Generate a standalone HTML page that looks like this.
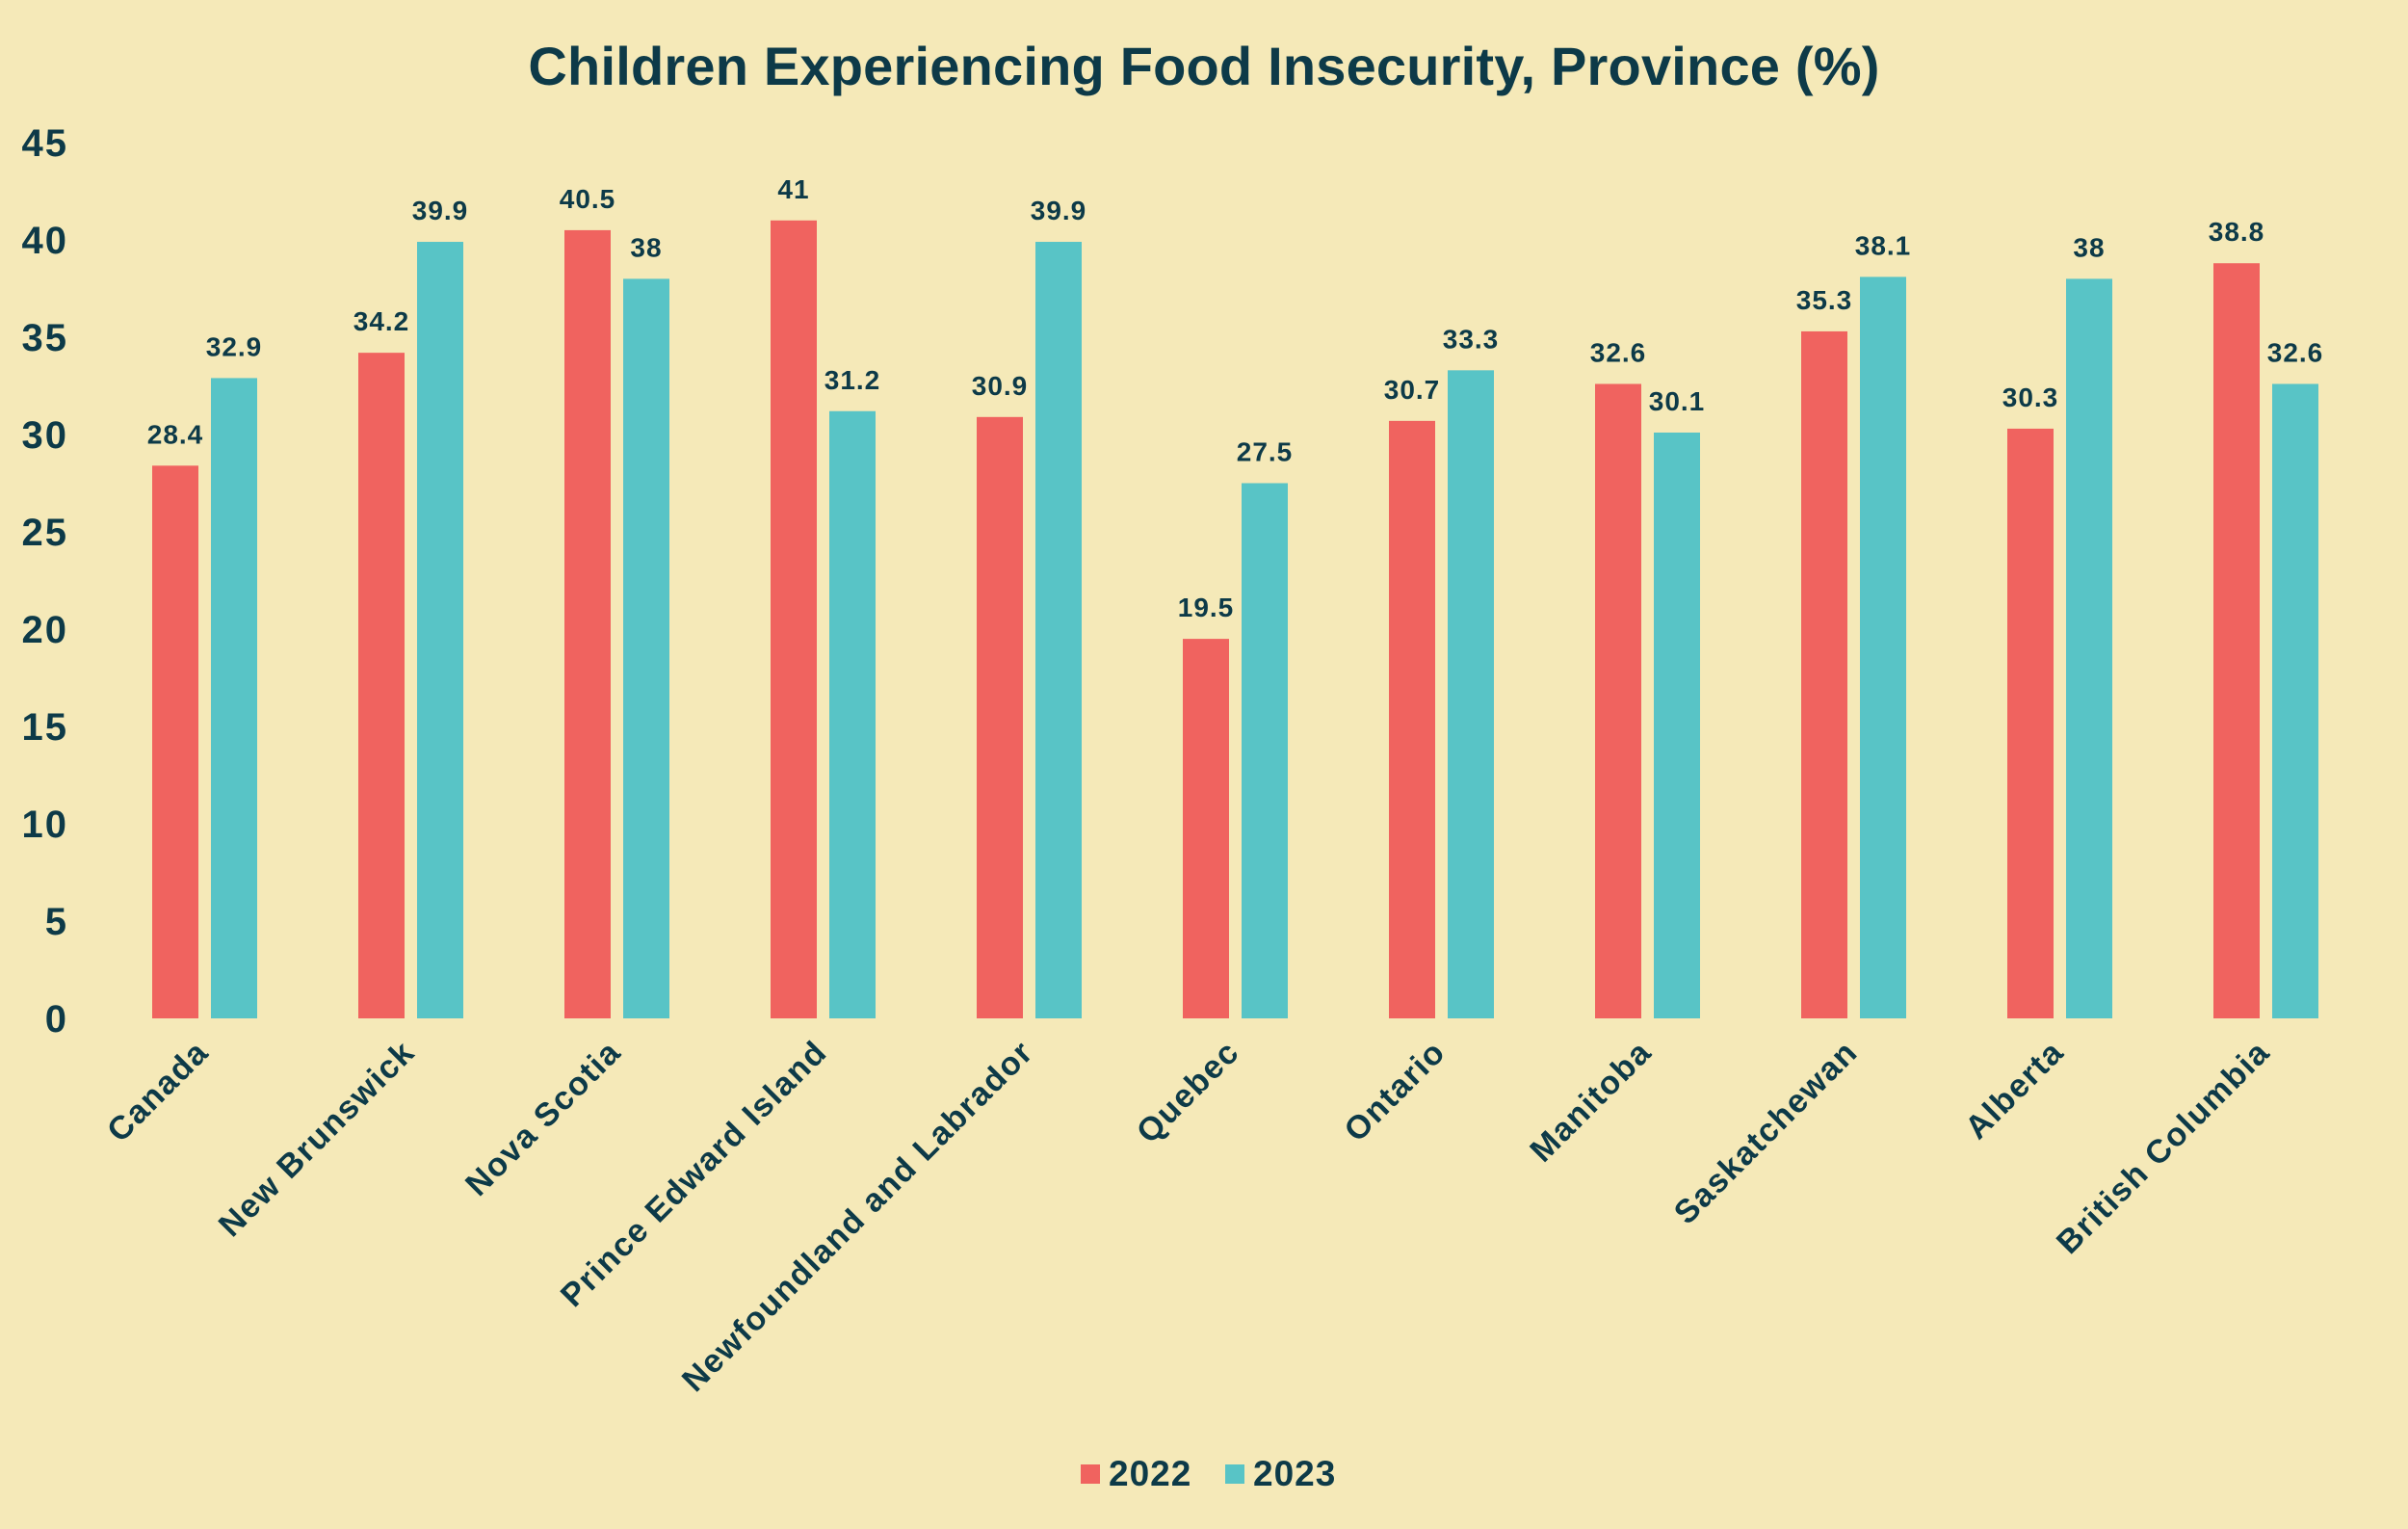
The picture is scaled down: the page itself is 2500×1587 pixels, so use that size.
<!DOCTYPE html>
<html><head><meta charset="utf-8">
<style>
html,body{margin:0;padding:0;background:#f5e9b8;}
svg{display:block;font-family:"Liberation Sans",sans-serif;font-weight:bold;}
</style></head>
<body>
<svg id="chart" width="2500" height="1587" viewBox="0 0 2500 1587" xmlns="http://www.w3.org/2000/svg">
<rect width="2500" height="1587" fill="#f5e9b8"/>
<text x="1250" y="88" text-anchor="middle" font-size="56" fill="#0d3a48" letter-spacing="0.2">Children Experiencing Food Insecurity, Province (%)</text>
<g id="yaxis"></g>
<g id="bars"></g>
<g id="xaxis"></g>
<g>
<rect x="1122" y="1520" width="20" height="20" fill="#f0635f"/>
<text x="1151" y="1542" font-size="37" fill="#0d3a48" letter-spacing="1">2022</text>
<rect x="1272" y="1520" width="20" height="20" fill="#58c4c6"/>
<text x="1301" y="1542" font-size="37" fill="#0d3a48" letter-spacing="1">2023</text>
</g>
</svg>
<script>
const categories=["Canada","New Brunswick","Nova Scotia","Prince Edward Island","Newfoundland and Labrador","Quebec","Ontario","Manitoba","Saskatchewan","Alberta","British Columbia"];
const values2022=[28.4,34.2,40.5,41,30.9,19.5,30.7,32.6,35.3,30.3,38.8];
const values2023=[32.9,39.9,38,31.2,39.9,27.5,33.3,30.1,38.1,38,32.6];
const yTicks=[0,5,10,15,20,25,30,35,40,45];

const NS="http://www.w3.org/2000/svg";
const y0=1057, y45=148, yMax=45;
function yScale(v){return y0-(v/yMax)*(y0-y45);}
const firstCenter=212.5, step=214;
function xCenter(i){return firstCenter+i*step;}
const barW=48, gap=13;

function mk(tag,attrs,parent){const e=document.createElementNS(NS,tag);for(const k in attrs)e.setAttribute(k,attrs[k]);parent.appendChild(e);return e;}

const ya=document.getElementById('yaxis');
yTicks.forEach(t=>{
  const e=mk('text',{x:71,y:yScale(t)+14,'text-anchor':'end','font-size':40,fill:'#0d3a48','letter-spacing':2},ya);
  
  
  e.textContent=t;
});

const bg=document.getElementById('bars');
const xa=document.getElementById('xaxis');
categories.forEach((c,i)=>{
  const cx=xCenter(i);
  [[values2022[i],cx-gap/2-barW,'#f0635f','2022'],[values2023[i],cx+gap/2,'#58c4c6','2023']].forEach(([v,x,col,yr])=>{
    const r=mk('rect',{x:x,y:yScale(v),width:barW,height:y0-yScale(v),fill:col},bg);
    
    
    const l=mk('text',{x:x+barW/2,y:yScale(v)-23,'text-anchor':'middle','font-size':28,fill:'#0d3a48','letter-spacing':1},bg);
    
    
    l.textContent=v;
  });
  const tx=cx+6, ty=1094;
  const t=mk('text',{x:tx,y:ty,'text-anchor':'end','font-size':34,fill:'#0d3a48','letter-spacing':1.5,transform:'rotate(-45 '+tx+' '+ty+')'},xa);
  
  
  t.textContent=c;
});
</script>
</body></html>
